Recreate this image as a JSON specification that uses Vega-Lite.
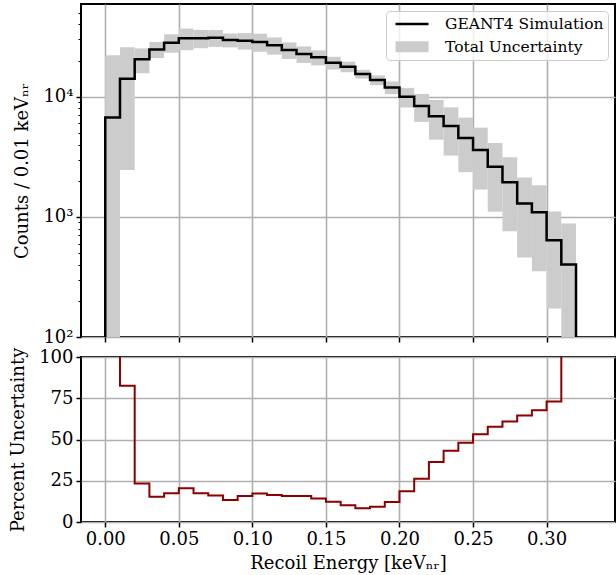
{
  "$schema": "https://vega.github.io/schema/vega-lite/v6.json",
  "padding": {"left": 8, "top": 3, "right": 1, "bottom": 2},
  "background": "white",
  "bounds": "flush",
  "config": {
    "font": "DejaVu Serif",
    "view": {"stroke": "black", "strokeWidth": 2},
    "axis": {
      "labelFont": "DejaVu Serif", "titleFont": "DejaVu Serif",
      "labelFontSize": 18, "titleFontSize": 18, "titleFontWeight": "normal",
      "labelColor": "black", "titleColor": "black",
      "domain": false, "tickColor": "black", "tickWidth": 1.5, "tickSize": 5,
      "gridColor": "#b0b0b0", "gridWidth": 1.6, "gridOpacity": 1,
      "labelPadding": 3, "titlePadding": 6
    },
    "legend": {
      "orient": "top-right", "offset": 7,
      "symbolType": "stroke", "symbolSize": 1089, "clipHeight": 18,
      "labelFont": "DejaVu Serif", "labelFontSize": 15.5, "labelColor": "black", "labelLimit": 400,
      "labelOffset": 11, "rowPadding": 4.7, "padding": 4,
      "fillColor": "rgba(255,255,255,0.8)", "strokeColor": "#cccccc", "cornerRadius": 4
    }
  },
  "datasets": {
    "bins": [
      {"e": 0.00, "e2": 0.01, "c": 6730, "low": 1, "high": 22209},
      {"e": 0.01, "e2": 0.02, "c": 14130, "low": 2459, "high": 25801},
      {"e": 0.02, "e2": 0.03, "c": 20500, "low": 15703, "high": 25297},
      {"e": 0.03, "e2": 0.04, "c": 24800, "low": 21006, "high": 28594},
      {"e": 0.04, "e2": 0.05, "c": 28200, "low": 23265, "high": 33135},
      {"e": 0.05, "e2": 0.06, "c": 30700, "low": 24437, "high": 36963},
      {"e": 0.06, "e2": 0.07, "c": 30700, "low": 25358, "high": 36042},
      {"e": 0.07, "e2": 0.08, "c": 31000, "low": 26009, "high": 35991},
      {"e": 0.08, "e2": 0.09, "c": 29700, "low": 25750, "high": 33650},
      {"e": 0.09, "e2": 0.10, "c": 29300, "low": 24700, "high": 33900},
      {"e": 0.10, "e2": 0.11, "c": 28600, "low": 23681, "high": 33519},
      {"e": 0.11, "e2": 0.12, "c": 26800, "low": 22432, "high": 31168},
      {"e": 0.12, "e2": 0.13, "c": 24500, "low": 20654, "high": 28347},
      {"e": 0.13, "e2": 0.14, "c": 22700, "low": 19136, "high": 26264},
      {"e": 0.14, "e2": 0.15, "c": 21300, "low": 18254, "high": 24346},
      {"e": 0.15, "e2": 0.16, "c": 19200, "low": 16858, "high": 21542},
      {"e": 0.16, "e2": 0.17, "c": 17800, "low": 16002, "high": 19598},
      {"e": 0.17, "e2": 0.18, "c": 15460, "low": 14177, "high": 16743},
      {"e": 0.18, "e2": 0.19, "c": 13780, "low": 12498, "high": 15062},
      {"e": 0.19, "e2": 0.20, "c": 11970, "low": 10522, "high": 13418},
      {"e": 0.20, "e2": 0.21, "c": 10000, "low": 8140, "high": 11860},
      {"e": 0.21, "e2": 0.22, "c": 8365, "low": 6173, "high": 10557},
      {"e": 0.22, "e2": 0.23, "c": 6900, "low": 4395, "high": 9405},
      {"e": 0.23, "e2": 0.24, "c": 5700, "low": 3238, "high": 8162},
      {"e": 0.24, "e2": 0.25, "c": 4530, "low": 2356, "high": 6704},
      {"e": 0.25, "e2": 0.26, "c": 3610, "low": 1689, "high": 5531},
      {"e": 0.26, "e2": 0.27, "c": 2610, "low": 1104, "high": 4116},
      {"e": 0.27, "e2": 0.28, "c": 1946, "low": 761, "high": 3131},
      {"e": 0.28, "e2": 0.29, "c": 1295, "low": 460, "high": 2130},
      {"e": 0.29, "e2": 0.30, "c": 1094, "low": 353, "high": 1835},
      {"e": 0.30, "e2": 0.31, "c": 640, "low": 173, "high": 1107},
      {"e": 0.31, "e2": 0.32, "c": 401, "low": 1, "high": 882}
    ],
    "topline": [
      {"x": 0.00, "y": 100, "k": 0},
      {"x": 0.00, "y": 6730, "k": 1},
      {"x": 0.01, "y": 14130, "k": 2},
      {"x": 0.02, "y": 20500, "k": 3},
      {"x": 0.03, "y": 24800, "k": 4},
      {"x": 0.04, "y": 28200, "k": 5},
      {"x": 0.05, "y": 30700, "k": 6},
      {"x": 0.06, "y": 30700, "k": 7},
      {"x": 0.07, "y": 31000, "k": 8},
      {"x": 0.08, "y": 29700, "k": 9},
      {"x": 0.09, "y": 29300, "k": 10},
      {"x": 0.10, "y": 28600, "k": 11},
      {"x": 0.11, "y": 26800, "k": 12},
      {"x": 0.12, "y": 24500, "k": 13},
      {"x": 0.13, "y": 22700, "k": 14},
      {"x": 0.14, "y": 21300, "k": 15},
      {"x": 0.15, "y": 19200, "k": 16},
      {"x": 0.16, "y": 17800, "k": 17},
      {"x": 0.17, "y": 15460, "k": 18},
      {"x": 0.18, "y": 13780, "k": 19},
      {"x": 0.19, "y": 11970, "k": 20},
      {"x": 0.20, "y": 10000, "k": 21},
      {"x": 0.21, "y": 8365, "k": 22},
      {"x": 0.22, "y": 6900, "k": 23},
      {"x": 0.23, "y": 5700, "k": 24},
      {"x": 0.24, "y": 4530, "k": 25},
      {"x": 0.25, "y": 3610, "k": 26},
      {"x": 0.26, "y": 2610, "k": 27},
      {"x": 0.27, "y": 1946, "k": 28},
      {"x": 0.28, "y": 1295, "k": 29},
      {"x": 0.29, "y": 1094, "k": 30},
      {"x": 0.30, "y": 640, "k": 31},
      {"x": 0.31, "y": 401, "k": 32},
      {"x": 0.32, "y": 401, "k": 33},
      {"x": 0.32, "y": 100, "k": 34}
    ],
    "pline": [
      {"x": 0.00, "p": 230},
      {"x": 0.01, "p": 82.6},
      {"x": 0.02, "p": 23.4},
      {"x": 0.03, "p": 15.3},
      {"x": 0.04, "p": 17.5},
      {"x": 0.05, "p": 20.4},
      {"x": 0.06, "p": 17.4},
      {"x": 0.07, "p": 16.1},
      {"x": 0.08, "p": 13.3},
      {"x": 0.09, "p": 15.7},
      {"x": 0.10, "p": 17.2},
      {"x": 0.11, "p": 16.3},
      {"x": 0.12, "p": 15.7},
      {"x": 0.13, "p": 15.7},
      {"x": 0.14, "p": 14.3},
      {"x": 0.15, "p": 12.2},
      {"x": 0.16, "p": 10.1},
      {"x": 0.17, "p": 8.3},
      {"x": 0.18, "p": 9.3},
      {"x": 0.19, "p": 12.1},
      {"x": 0.20, "p": 18.6},
      {"x": 0.21, "p": 26.2},
      {"x": 0.22, "p": 36.3},
      {"x": 0.23, "p": 43.2},
      {"x": 0.24, "p": 48.0},
      {"x": 0.25, "p": 53.2},
      {"x": 0.26, "p": 57.7},
      {"x": 0.27, "p": 60.9},
      {"x": 0.28, "p": 64.5},
      {"x": 0.29, "p": 67.7},
      {"x": 0.30, "p": 73.0},
      {"x": 0.31, "p": 120},
      {"x": 0.32, "p": 120}
    ]
  },
  "spacing": 20,
  "vconcat": [
    {
      "width": 534,
      "height": 333,
      "layer": [
        {
          "data": {"name": "bins"},
          "mark": {"type": "rect", "clip": true, "opacity": 1},
          "encoding": {
            "x": {"field": "e", "type": "quantitative",
              "scale": {"domain": [-0.0165, 0.3465], "nice": false, "zero": false},
              "axis": {"title": null, "labels": false, "values": [0, 0.05, 0.1, 0.15, 0.2, 0.25, 0.3]}},
            "x2": {"field": "e2"},
            "y": {"field": "low", "type": "quantitative",
              "scale": {"type": "log", "domain": [100, 59200], "nice": false},
              "axis": {
                "title": "Counts / 0.01 keVₙᵣ", "titlePadding": 11,
                "values": [100, 200, 300, 400, 500, 600, 700, 800, 900, 1000, 2000, 3000, 4000, 5000, 6000, 7000, 8000, 9000, 10000, 20000, 30000, 40000, 50000],
                "labelExpr": "datum.value == 100 ? '10²' : datum.value == 1000 ? '10³' : datum.value == 10000 ? '10⁴' : ''",
                "gridOpacity": {"condition": {"test": "datum.value == 100 || datum.value == 1000 || datum.value == 10000", "value": 1}, "value": 0},
                "tickSize": {"condition": {"test": "datum.value == 100 || datum.value == 1000 || datum.value == 10000", "value": 5}, "value": 3},
                "tickWidth": {"condition": {"test": "datum.value == 100 || datum.value == 1000 || datum.value == 10000", "value": 1.5}, "value": 1}
              }},
            "y2": {"field": "high"},
            "color": {"datum": "Total Uncertainty", "type": "nominal",
              "scale": {"domain": ["GEANT4 Simulation", "Total Uncertainty"], "range": ["black", "#cccccc"]},
              "legend": {"title": null}},
            "strokeWidth": {"datum": "Total Uncertainty", "type": "ordinal",
              "scale": {"type": "point", "domain": ["GEANT4 Simulation", "Total Uncertainty"], "range": [2.5, 11]},
              "legend": {"title": null}}
          }
        },
        {
          "data": {"name": "topline"},
          "mark": {"type": "line", "interpolate": "step-after", "clip": true, "strokeJoin": "miter", "strokeCap": "butt"},
          "encoding": {
            "x": {"field": "x", "type": "quantitative"},
            "y": {"field": "y", "type": "quantitative"},
            "order": {"field": "k"},
            "color": {"datum": "GEANT4 Simulation", "type": "nominal", "legend": {"title": null}},
            "strokeWidth": {"datum": "GEANT4 Simulation", "type": "ordinal", "legend": {"title": null}}
          }
        }
      ]
    },
    {
      "width": 534,
      "height": 165,
      "data": {"name": "pline"},
      "mark": {"type": "line", "interpolate": "step-after", "color": "#8b0000", "strokeWidth": 2, "clip": true, "strokeJoin": "miter"},
      "encoding": {
        "x": {"field": "x", "type": "quantitative",
          "scale": {"domain": [-0.0165, 0.3465], "nice": false, "zero": false},
          "axis": {"title": "Recoil Energy [keVₙᵣ]", "values": [0, 0.05, 0.1, 0.15, 0.2, 0.25, 0.3], "format": ".2f"}},
        "y": {"field": "p", "type": "quantitative",
          "scale": {"domain": [0, 100], "nice": false},
          "axis": {"title": "Percent Uncertainty", "titlePadding": 11, "values": [0, 25, 50, 75, 100]}}
      }
    }
  ]
}
